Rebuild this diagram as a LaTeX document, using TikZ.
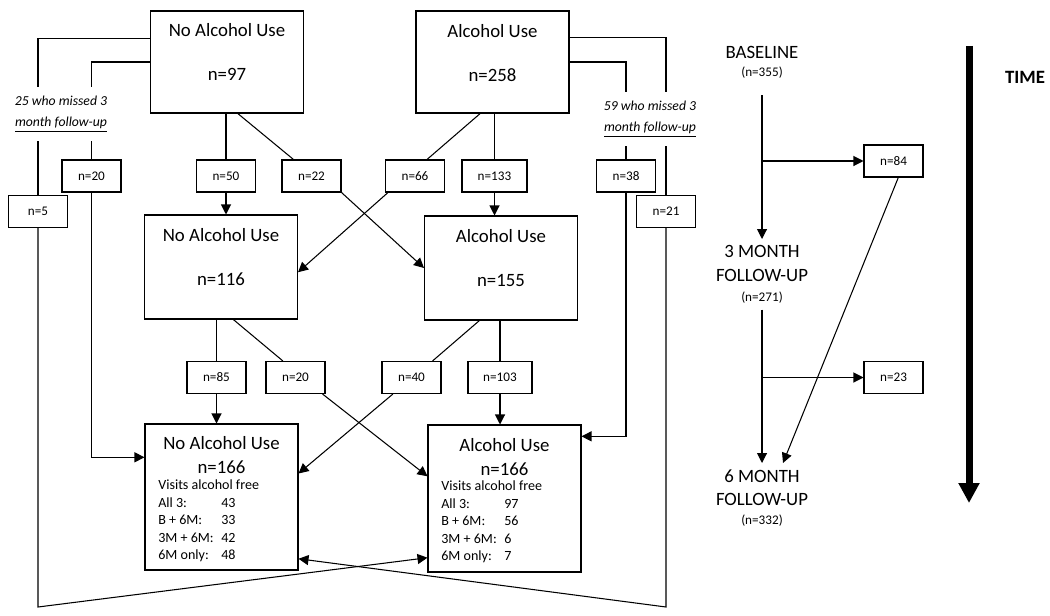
\documentclass[tikz,border=0pt]{standalone}
\usepackage{fontspec}
\setmainfont{Carlito}
\usetikzlibrary{calc}
\usetikzlibrary{arrows.meta}
\tikzset{bigbox/.style={draw, line width=0.6pt, minimum width=3.06cm, inner sep=0pt}}
\tikzset{nbox/.style={draw, line width=0.6pt, minimum height=0.64cm, inner sep=1pt, font=\fontsize{7.5}{9}\selectfont}}
\tikzset{headtext/.style={align=center, font=\fontsize{10.7}{13.5}\selectfont}}
\tikzset{listtext/.style={anchor=north west, inner sep=0pt, font=\fontsize{8}{10}\selectfont}}
\tikzset{misstext/.style={fill=white, align=center, minimum height=1.08cm, font=\fontsize{7.8}{12}\selectfont\itshape}}
\tikzset{timetext/.style={anchor=north, align=center, font=\fontsize{10.7}{13.5}\selectfont, inner sep=0.12cm}}
\tikzset{link/.style={line width=0.6pt}}
\tikzset{arr/.style={line width=0.6pt, -{Triangle[length=0.2cm, width=0.2cm]}}}

\begin{document}
\begin{tikzpicture}[x=0.02cm, y=-0.02cm]
  \useasboundingbox (0,0) rectangle (1050,615);
  % the six group boxes
  \node[bigbox, minimum height=2.04cm] (na0) at (227,62) {};
  \node[bigbox, minimum height=2.04cm] (a0) at (492.5,62) {};
  \node[bigbox, minimum height=2.08cm] (na3) at (221,267) {};
  \node[bigbox, minimum height=2.08cm] (a3) at (501,268) {};
  \node[bigbox, minimum height=2.92cm] (na6) at (221.5,497) {};
  \node[bigbox, minimum height=2.94cm] (a6) at (504.5,498.5) {};
  \node[headtext] (na0t) at (227,52) {No Alcohol Use\\[12pt]n=97};
  \node[headtext] (a0t) at (492.5,53) {Alcohol Use\\[12pt]n=258};
  \node[headtext] (na3t) at (221,257) {No Alcohol Use\\[12pt]n=116};
  \node[headtext] (a3t) at (501,258) {Alcohol Use\\[12pt]n=155};
  \node[headtext] (na6t) at (221.5,455) {No Alcohol Use\\n=166};
  \node[headtext] (a6t) at (504.5,457) {Alcohol Use\\n=166};
  \node[listtext] (na6l) at (158,477) {\begin{tabular}{@{}p{1.26cm}@{}l@{}}
    \multicolumn{2}{@{}l@{}}{Visits alcohol free}\\
    All 3: & 43\\ B + 6M: & 33\\ 3M + 6M: & 42\\ 6M only: & 48
  \end{tabular}};
  \node[listtext] (a6l) at (441,478) {\begin{tabular}{@{}p{1.26cm}@{}l@{}}
    \multicolumn{2}{@{}l@{}}{Visits alcohol free}\\
    All 3: & 97\\ B + 6M: & 56\\ 3M + 6M: & 6\\ 6M only: & 7
  \end{tabular}};
  % count boxes
  \foreach \x/\y/\lab/\txt/\w in {
    38/211.5/n5/5/1.18,
    91.5/176/n20a/20/1.18,
    226/176/n50/50/1.18,
    311.5/176/n22/22/1.18,
    415/176/n66/66/1.18,
    494.5/176/n133/133/1.3,
    626/176/n38/38/1.18,
    666/211.5/n21/21/1.18,
    216.5/377.5/n85/85/1.18,
    295.5/377.5/n20b/20/1.18,
    411.5/377.5/n40/40/1.18,
    500/377.5/n103/103/1.28,
    893.5/161/n84/84/1.18,
    893.5/377.5/n23/23/1.18%
  } {
    \node[nbox, minimum width=\w cm] (\lab) at (\x,\y) {n=\txt};
  }
  % straight transitions
  \foreach \u/\m/\v in {na0/n50/na3, a0/n133/a3, na3/n85/na6, a3/n103/a6} {
    \draw[link] (\m.north |- \u.south) -- (\m.north);
    \draw[arr] (\m.south) -- (\m.south |- \v.north);
  }
  % crossing transitions
  \draw[link] ($(na0.south west)!0.57!(na0.south east)$) -- ($(n22.north west)!0.2!(n22.north east)$);
  \draw[arr] (n22.south east) -- (a3.west);
  \draw[link] ($(a0.south west)!0.42!(a0.south east)$) -- ($(n66.north west)!0.7!(n66.north east)$);
  \draw[arr] ($(n66.south west)!0.05!(n66.south east)$) -- ($(na3.north east)!0.55!(na3.south east)$);
  \draw[link] ($(na3.south west)!0.58!(na3.south east)$) -- ($(n20b.north west)!0.29!(n20b.north east)$);
  \draw[arr] ($(n20b.south west)!0.95!(n20b.south east)$) -- ($(a6.north west)!0.35!(a6.south west)$);
  \draw[link] ($(a3.south west)!0.36!(a3.south east)$) -- ($(n40.north west)!0.85!(n40.north east)$);
  \draw[arr] ($(n40.south west)!0.19!(n40.south east)$) -- ($(na6.north east)!0.34!(na6.south east)$);
  % missed 3 month follow-up
  \coordinate (lcorner) at (38,607);
  \coordinate (rcorner) at (666,607);
  \draw[link] ($(na0.north west)!0.27!(na0.south west)$) -| (n5.north);
  \draw[link] (na0.west) -| (n20a.north);
  \draw[arr] (n5.south) -- (lcorner) -- ($(a6.north west)!0.9!(a6.south west)$);
  \draw[arr] (n20a.south) |- ($(na6.north west)!0.23!(na6.south west)$);
  \draw[link] ($(a0.north east)!0.26!(a0.south east)$) -| (n21.north);
  \draw[link] (a0.east) -| (n38.north);
  \draw[arr] (n21.south) -- (rcorner) -- ($(na6.north east)!0.92!(na6.south east)$);
  \draw[arr] (n38.south) |- ($(a6.north east)!0.08!(a6.south east)$);
  \node[misstext] (miss25) at (61,114) {25 who missed 3\\\underline{month follow-up}};
  \node[misstext] (miss59) at (650,119) {59 who missed 3\\\underline{month follow-up}};
  % time line
  \node[timetext] (base) at (762,40) {BASELINE\\[-3pt]{\fontsize{7.5}{9}\selectfont (n=355)}};
  \node[timetext] (m3) at (762,239) {3 MONTH\\FOLLOW-UP\\[-2pt]{\fontsize{7.5}{9}\selectfont (n=271)}};
  \node[timetext] (m6) at (762,463) {6 MONTH\\FOLLOW-UP\\[-3pt]{\fontsize{7.5}{9}\selectfont (n=332)}};
  \draw[arr, shorten <=0.2cm] (base.south) -- (m3.north);
  \draw[arr] (m3.south) -- (m6.north);
  \draw[arr] (base.south |- n84) -- (n84.west);
  \draw[arr] (m3.south |- n23) -- (n23.west);
  \draw[arr] ($(n84.south west)!0.58!(n84.south east)$) -- ($(m6.north)+(21,0)$);
  \coordinate (tstart) at (969,46);
  \coordinate (tend) at (969,503);
  \draw[line width=4pt, -{Triangle[length=0.4cm, width=0.4cm]}] (tstart) -- (tend);
  \node[font=\fontsize{10.7}{13}\selectfont\bfseries] (time) at (1025,77) {TIME};
\end{tikzpicture}
\end{document}
